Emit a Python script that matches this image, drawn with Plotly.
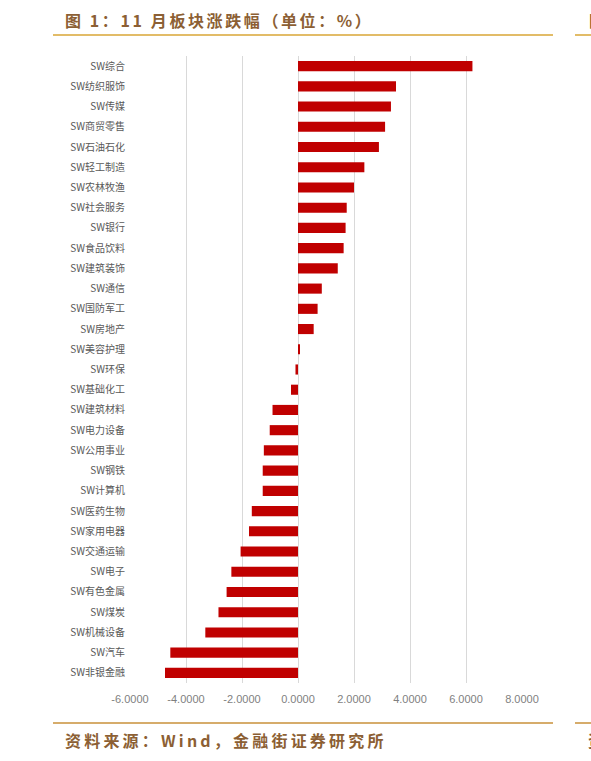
import plotly.graph_objects as go

categories = ["SW综合", "SW纺织服饰", "SW传媒", "SW商贸零售", "SW石油石化", "SW轻工制造",
              "SW农林牧渔", "SW社会服务", "SW银行", "SW食品饮料", "SW建筑装饰", "SW通信",
              "SW国防军工", "SW房地产", "SW美容护理", "SW环保", "SW基础化工", "SW建筑材料",
              "SW电力设备", "SW公用事业", "SW钢铁", "SW计算机", "SW医药生物", "SW家用电器",
              "SW交通运输", "SW电子", "SW有色金属", "SW煤炭", "SW机械设备", "SW汽车", "SW非银金融"]
values = [6.23, 3.50, 3.32, 3.11, 2.89, 2.37, 2.00, 1.74, 1.70, 1.63, 1.42, 0.85,
          0.70, 0.56, 0.07, -0.09, -0.25, -0.91, -1.01, -1.22, -1.26, -1.26, -1.65, -1.75,
          -2.05, -2.38, -2.55, -2.84, -3.31, -4.56, -4.75]
tick_vals = [-6, -4, -2, 0, 2, 4, 6, 8]
tick_text = ["%.4f" % v for v in tick_vals]

title_text = "图 1：11 月板块涨跌幅（单位：%）"
source_text = "资料来源：Wind，金融街证券研究所"

W, H = 591, 761
L, R, T, B = 130, 522, 56, 683

def px(x):
    return (x - L) / (R - L)

def py(y):
    return (B - y) / (B - T)

fig = go.Figure(go.Bar(
    x=values, y=categories, orientation="h",
    marker=dict(color="#C00000", line=dict(width=0)),
    width=0.5,
))

brown = "#8C5F34"

def spaced(t, s):
    return '<span style="letter-spacing:%spx"><b>%s</b></span>' % (s, t)

fig.update_layout(
    width=W, height=H,
    margin=dict(l=L, r=W - R, t=T, b=H - B),
    paper_bgcolor="white", plot_bgcolor="white",
    showlegend=False,
    xaxis=dict(range=[-6, 8], tickvals=tick_vals, ticktext=tick_text,
               showgrid=True, gridcolor="#D9D9D9", gridwidth=1, zeroline=False,
               showline=False, ticks="", ticklabelstandoff=8,
               tickfont=dict(family="Liberation Sans Narrow, Liberation Sans, Arial", size=11, color="#7F7F7F")),
    yaxis=dict(autorange="reversed", showgrid=False, showline=False, ticks="",
               ticklabelstandoff=4,
               tickfont=dict(family="Noto Sans CJK SC", size=10, color="#595959")),
    bargap=0.5,
    shapes=[
        dict(type="line", xref="paper", yref="paper", x0=px(53), x1=px(553), y0=py(35), y1=py(35),
             line=dict(color="#E2BC68", width=2)),
        dict(type="line", xref="paper", yref="paper", x0=px(575), x1=px(592), y0=py(35), y1=py(35),
             line=dict(color="#E2BC68", width=2)),
        dict(type="line", xref="paper", yref="paper", x0=px(53), x1=px(553), y0=py(723), y1=py(723),
             line=dict(color="#C8913A", width=1.5)),
        dict(type="line", xref="paper", yref="paper", x0=px(575), x1=px(592), y0=py(723), y1=py(723),
             line=dict(color="#C8913A", width=1.5)),
    ],
    annotations=[
        dict(text=spaced(title_text, 2.6), xref="paper", yref="paper", x=px(63), y=py(20),
             xanchor="left", yanchor="middle", showarrow=False,
             font=dict(family="Noto Sans CJK SC", size=16, color=brown)),
        dict(text=spaced(source_text, 3.2), xref="paper", yref="paper", x=px(63), y=py(740),
             xanchor="left", yanchor="middle", showarrow=False,
             font=dict(family="Noto Sans CJK SC", size=16, color=brown)),
        dict(text="<b>图 2</b>", xref="paper", yref="paper", x=px(587), y=py(20),
             xanchor="left", yanchor="middle", showarrow=False,
             font=dict(family="Noto Sans CJK SC", size=16, color=brown)),
        dict(text="<b>资料</b>", xref="paper", yref="paper", x=px(586), y=py(740),
             xanchor="left", yanchor="middle", showarrow=False,
             font=dict(family="Noto Sans CJK SC", size=16, color=brown)),
    ],
)

fig.write_html("out.html")
